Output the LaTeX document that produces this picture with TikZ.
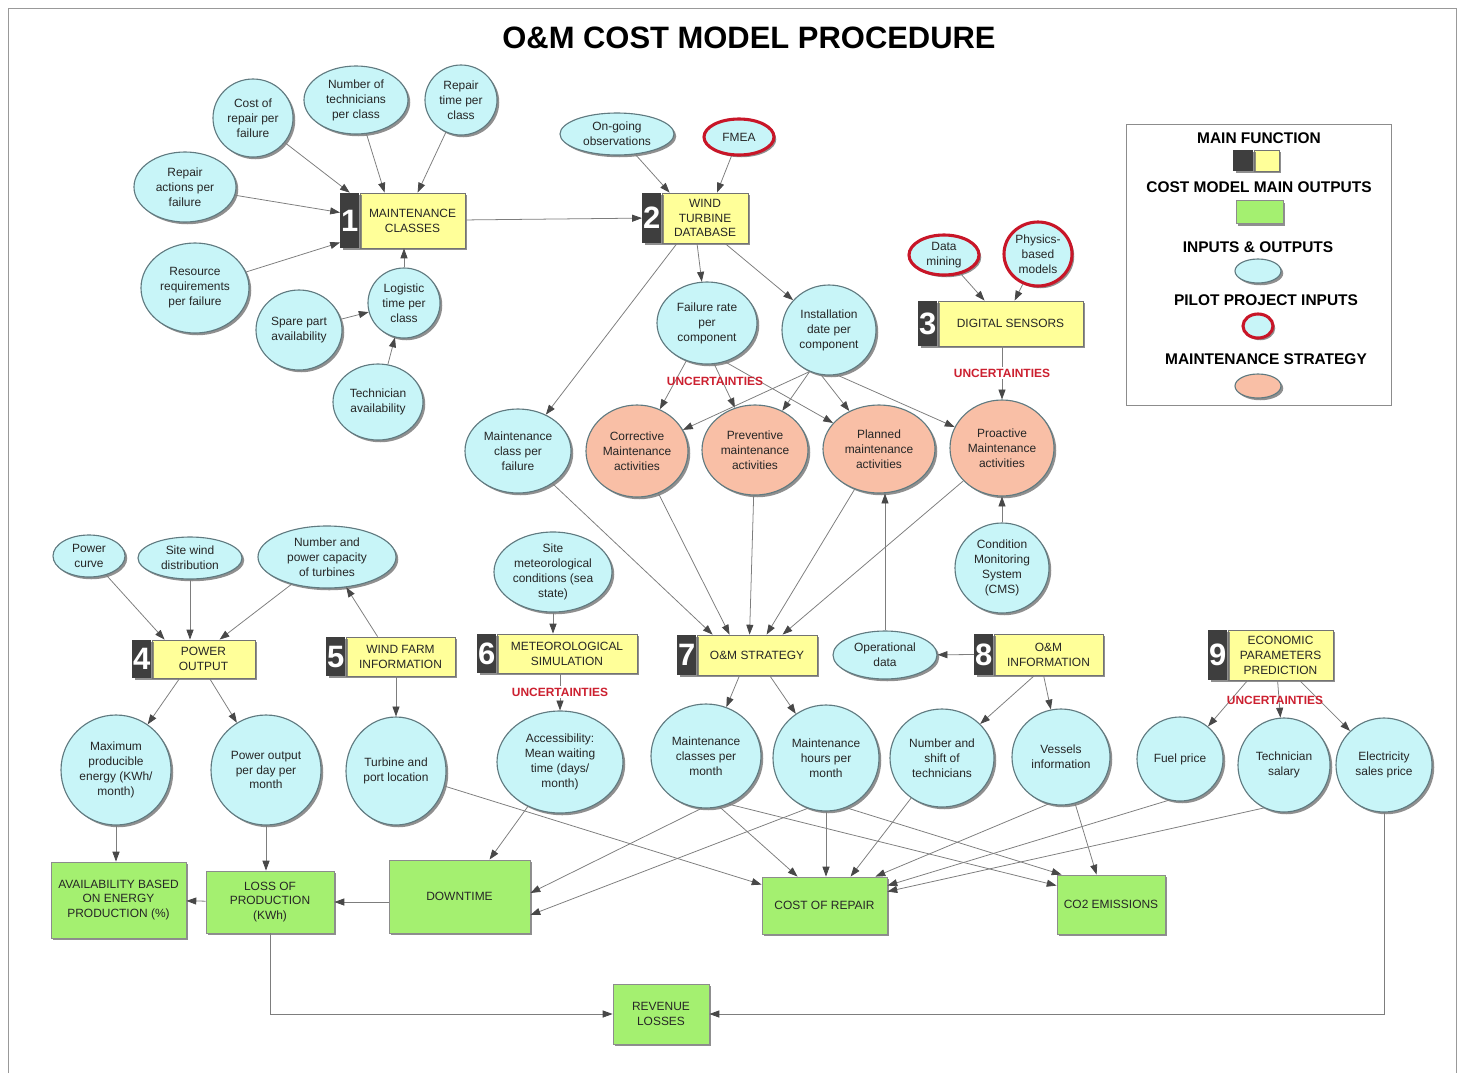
\documentclass[tikz,border=0pt]{standalone}
\usepackage{fontspec}
\setmainfont{Liberation Sans}
\usetikzlibrary{shapes.geometric,arrows.meta,shadows}

\definecolor{inpfill}{RGB}{200,245,248}
\definecolor{inpline}{RGB}{96,122,128}
\definecolor{strfill}{RGB}{249,191,166}
\definecolor{fnfill}{RGB}{255,255,153}
\definecolor{fnnum}{RGB}{62,62,62}
\definecolor{outfill}{RGB}{164,240,112}
\definecolor{pilot}{RGB}{200,22,40}
\definecolor{uncred}{RGB}{204,32,48}
\definecolor{conn}{RGB}{125,125,125}
\definecolor{tipc}{RGB}{72,72,72}

\def\px{0.025cm}

\tikzset{
  txt/.style={font=\fontsize{8.5}{10.6}\selectfont, align=center, text=black!85},
  shade/.style={drop shadow={shadow xshift=1.6pt, shadow yshift=-1.6pt, fill=black!55, opacity=.8}},
  wire/.style={draw=conn, line width=.55pt},
  inp/.style 2 args={ellipse, txt, shade, draw=inpline, line width=.8pt, fill=inpfill,
    inner sep=0pt, minimum width=#1*\px, minimum height=#2*\px},
  pil/.style 2 args={inp={#1}{#2}, draw=pilot, line width=2.2pt},
  strat/.style 2 args={inp={#1}{#2}, fill=strfill},
  fn/.style 2 args={rectangle, txt, shade, draw=black!55, line width=.6pt, fill=fnfill,
    inner sep=0pt, minimum width=#1*\px, minimum height=#2*\px},
  num/.style={rectangle, shade, fill=fnnum, text=white, inner sep=0pt, anchor=east,
    minimum width=19*\px, minimum height=#1*\px, font=\fontsize{22}{22}\bfseries},
  out/.style 2 args={fn={#1}{#2}, fill=outfill, draw=black!45},
  unc/.style={font=\fontsize{8.5}{10}\bfseries, text=uncred, inner sep=1pt},
  key/.style={font=\fontsize{11}{13}\bfseries},
}

\begin{document}
\begin{tikzpicture}[>={Triangle[length=7pt,width=5pt,color=tipc]}, every edge/.style={wire}]
    \def\x{0.025}
    \def\y{-0.025}
    \useasboundingbox (0,0) rectangle (1463*\x,1073*\y);
    \draw[black!40, line width=.6pt] (8*\x,1073*\y) -- (8*\x,8*\y) -- (1456*\x,8*\y) -- (1456*\x,1073*\y);
    \node[font=\fontsize{22}{26}\bfseries] (title) at (749*\x,38*\y) {O\&M COST MODEL PROCEDURE};

    \node[fn={105}{55}] (F1) at (412.5*\x,220.5*\y) {MAINTENANCE\\CLASSES};
    \node[num=55] (N1) at (F1.west) {1};
    \node[fn={86}{50}] (F2) at (705*\x,218*\y) {WIND\\TURBINE\\DATABASE};
    \node[num=50] (N2) at (F2.west) {2};
    \node[fn={145}{45}] (F3) at (1010.5*\x,323.5*\y) {DIGITAL SENSORS};
    \node[num=45] (N3) at (F3.west) {3};
    \node[fn={103}{38}] (F4) at (203.5*\x,659*\y) {POWER\\OUTPUT};
    \node[num=38] (N4) at (F4.west) {4};
    \node[fn={109}{39}] (F5) at (400.5*\x,656.5*\y) {WIND FARM\\INFORMATION};
    \node[num=39] (N5) at (F5.west) {5};
    \node[fn={140}{39}] (F6) at (567*\x,653.5*\y) {METEOROLOGICAL\\SIMULATION};
    \node[num=39] (N6) at (F6.west) {6};
    \node[fn={120}{40}] (F7) at (757*\x,655*\y) {O\&M STRATEGY};
    \node[num=40] (N7) at (F7.west) {7};
    \node[fn={109}{41}] (F8) at (1048.5*\x,654.5*\y) {O\&M\\INFORMATION};
    \node[num=41] (N8) at (F8.west) {8};
    \node[fn={105}{50}] (F9) at (1280.5*\x,655*\y) {ECONOMIC\\PARAMETERS\\PREDICTION};
    \node[num=50] (N9) at (F9.west) {9};

    \node[inp={80}{78}] (I1_1) at (253*\x,118*\y) {Cost of\\repair per\\failure};
    \node[inp={104}{68}] (I1_2) at (356*\x,100*\y) {Number of\\technicians\\per class};
    \node[inp={72}{70}] (I1_3) at (461*\x,100*\y) {Repair\\time per\\class};
    \node[inp={102}{70}] (I1_4) at (185*\x,187*\y) {Repair\\actions per\\failure};
    \node[inp={108}{90}] (I1_5) at (195*\x,288*\y) {Resource\\requirements\\per failure};
    \node[inp={72}{70}] (I1_6) at (404*\x,303*\y) {Logistic\\time per\\class};
    \node[inp={86}{80}] (I1_7) at (299*\x,330*\y) {Spare part\\availability};
    \node[inp={90}{76}] (I1_8) at (378*\x,402*\y) {Technician\\availability};

    \node[inp={114}{42}] (I2_1) at (617*\x,134*\y) {On-going\\observations};
    \node[pil={70}{36}] (I2_2) at (739*\x,137*\y) {FMEA};
    \node[inp={100}{82}] (O2_1) at (707*\x,323*\y) {Failure rate\\per\\component};
    \node[inp={94}{90}] (O2_2) at (829*\x,330*\y) {Installation\\date per\\component};
    \node[inp={106}{84}] (O2_3) at (518*\x,451*\y) {Maintenance\\class per\\failure};
    \node[pil={70}{40}] (I3_1) at (944*\x,255*\y) {Data\\mining};
    \node[pil={68}{64}] (I3_2) at (1038*\x,254*\y) {Physics-\\based\\models};

    \node[strat={102}{92}] (S1) at (637*\x,451*\y) {Corrective\\Maintenance\\activities};
    \node[strat={106}{90}] (S2) at (755*\x,450*\y) {Preventive\\maintenance\\activities};
    \node[strat={112}{88}] (S3) at (879*\x,449*\y) {Planned\\maintenance\\activities};
    \node[strat={104}{96}] (S4) at (1002*\x,448*\y) {Proactive\\Maintenance\\activities};
    \node[inp={94}{90}] (I3_3) at (1002*\x,568*\y) {Condition\\Monitoring\\System\\(CMS)};
    \node[inp={118}{80}] (I6_1) at (553*\x,572*\y) {Site\\meteorological\\conditions (sea\\state)};
    \node[inp={104}{48}] (O8_1) at (885*\x,655*\y) {Operational\\data};

    \node[inp={72}{42}] (I4_1) at (89*\x,556*\y) {Power\\curve};
    \node[inp={104}{42}] (I4_2) at (190*\x,558*\y) {Site wind\\distribution};
    \node[inp={138}{62}] (I4_3) at (327*\x,557*\y) {Number and\\power capacity\\of turbines};

    \node[inp={110}{110}] (O4_1) at (116*\x,770*\y) {Maximum\\producible\\energy (KWh/\\month)};
    \node[inp={110}{110}] (O4_2) at (266*\x,770*\y) {Power output\\per day per\\month};
    \node[inp={100}{108}] (O5_1) at (396*\x,771*\y) {Turbine and\\port location};
    \node[inp={126}{102}] (O6_1) at (560*\x,762*\y) {Accessibility:\\Mean waiting\\time (days/\\month)};
    \node[inp={110}{104}] (O7_1) at (706*\x,756*\y) {Maintenance\\classes per\\month};
    \node[inp={106}{106}] (O7_2) at (826*\x,758*\y) {Maintenance\\hours per\\month};
    \node[inp={104}{98}] (O8_2) at (942*\x,758*\y) {Number and\\shift of\\technicians};
    \node[inp={98}{96}] (O8_3) at (1061*\x,757*\y) {Vessels\\information};
    \node[inp={86}{84}] (O9_1) at (1180*\x,759*\y) {Fuel price};
    \node[inp={92}{94}] (O9_2) at (1284*\x,765*\y) {Technician\\salary};
    \node[inp={96}{94}] (O9_3) at (1384*\x,765*\y) {Electricity\\sales price};

    \node[out={135}{76}] (R1) at (118.5*\x,900*\y) {AVAILABILITY BASED\\ON ENERGY\\PRODUCTION (\%)};
    \node[out={128}{62}] (R2) at (270*\x,902*\y) {LOSS OF\\PRODUCTION\\(KWh)};
    \node[out={141}{73}] (R3) at (459.5*\x,896.5*\y) {DOWNTIME};
    \node[out={125}{57}] (R4) at (824.5*\x,905.5*\y) {COST OF REPAIR};
    \node[out={108}{59}] (R5) at (1111*\x,904.5*\y) {CO2 EMISSIONS};
    \node[out={96}{60}] (R6) at (661*\x,1014*\y) {REVENUE\\LOSSES};

    \draw[black!45, line width=.6pt] (1126*\x,124*\y) rectangle (1391*\x,405*\y);
    \node[key] (T1) at (1259*\x,138*\y) {MAIN FUNCTION};
    \node[fn={25}{21}] (K1) at (1266.5*\x,160.5*\y) {};
    \node[num=21, minimum width=20*\px] (K0) at (K1.west) {};
    \node[key] (T2) at (1259*\x,187*\y) {COST MODEL MAIN OUTPUTS};
    \node[out={47}{23}] (K2) at (1259.5*\x,212*\y) {};
    \node[key] (T3) at (1258*\x,247*\y) {INPUTS \& OUTPUTS};
    \node[inp={46}{24}] (K3) at (1258*\x,271*\y) {};
    \node[key] (T4) at (1266*\x,300*\y) {PILOT PROJECT INPUTS};
    \node[pil={30}{24}] (K4) at (1258*\x,326*\y) {};
    \node[key] (T5) at (1266*\x,359*\y) {MAINTENANCE STRATEGY};
    \node[strat={46}{24}] (K5) at (1258*\x,386*\y) {};

    \path (I1_1) edge [->] (N1.north);
    \path (I1_2) edge [->] ([xshift=25*\px]F1.north west);
    \path (I1_3) edge [->] ([xshift=58*\px]F1.north west);
    \path (I1_4) edge [->] ([yshift=8*\px]N1.west);
    \path (I1_5) edge [->] ([yshift=-22*\px]N1.west);
    \path (I1_7) edge [->] (I1_6);
    \path (I1_8) edge [->] (I1_6);
    \path (I1_6) edge [->] (I1_6.north |- F1.south);
    \path (F1) edge [->] (N2);

    \path (I2_1) edge [->] ([xshift=8*\px]F2.north west);
    \path (I2_2) edge [->] ([xshift=12*\px]F2.north);
    \path ([xshift=-8*\px]F2.south) edge [->] (O2_1);
    \path ([xshift=20*\px]F2.south) edge [->] (O2_2);
    \path ([xshift=-28*\px]F2.south) edge [->] (O2_3);

    \path (I3_1) edge [->] ([xshift=47*\px]F3.north west);
    \path (I3_2) edge [->] ([xshift=77*\px]F3.north west);
    \path (S4.north |- F3.south) edge [->] node [unc, fill=white] {UNCERTAINTIES} (S4);

    \path (O2_1) edge [->] (S1);
    \path (O2_1.-80) edge [->] (S2);
    \path (O2_1.-65) edge [->] (S3);
    \path (O2_2.-115) edge [->] (S1);
    \path (O2_2.-115) edge [->] (S2);
    \path (O2_2.-100) edge [->] (S3);
    \path (O2_2.-80) edge [->] (S4);
    \path (I3_3) edge [->] (S4);
    \path (O8_1) edge [->] (O8_1.north |- S3.south);
    \path (N8) edge [->] (O8_1);
    \node[unc] (U1) at (715*\x,381*\y) {UNCERTAINTIES};

    \path (O2_3) edge [->] ([xshift=16*\px]F7.north west);
    \path (S1) edge [->] ([xshift=33*\px]F7.north west);
    \path (S2) edge [->] ([xshift=53*\px]F7.north west);
    \path (S3) edge [->] ([xshift=70*\px]F7.north west);
    \path (S4) edge [->] ([xshift=86*\px]F7.north west);

    \path (I4_1) edge [->] ([xshift=13*\px]F4.north west);
    \path (I4_2) edge [->] (I4_2.south |- F4.north);
    \path (I4_3) edge [->] ([xshift=68*\px]F4.north west);
    \path ([xshift=32*\px]F5.north west) edge [->] (I4_3);
    \path (O5_1.north |- F5.south) edge [->] (O5_1);
    \path (I6_1) edge [->] (I6_1.south |- F6.north);
    \path (O6_1.north |- F6.south) edge [->] node [unc, fill=white] {UNCERTAINTIES} (O6_1);
    \path ([xshift=28*\px]F4.south west) edge [->] (O4_1);
    \path ([xshift=58*\px]F4.south west) edge [->] (O4_2);

    \path ([xshift=43*\px]F7.south west) edge [->] (O7_1);
    \path ([xshift=73*\px]F7.south west) edge [->] (O7_2);
    \path ([xshift=41*\px]F8.south west) edge [->] (O8_2);
    \path ([xshift=50*\px]F8.south west) edge [->] (O8_3);
    \path ([xshift=20*\px]F9.south west) edge [->] (O9_1);
    \path ([xshift=50*\px]F9.south west) edge [->] (O9_2);
    \path ([xshift=72*\px]F9.south west) edge [->] (O9_3);
    \node[unc] (U2) at (1275*\x,700*\y) {UNCERTAINTIES};

    \path (O4_1) edge [->] (O4_1.south |- R1.north);
    \path (O4_2) edge [->] (O4_2.south |- R2.north);
    \path (R3.west |- R2.east) edge [->] (R2);
    \path (R2) edge [->] (R1);
    \path (O6_1) edge [->] ([xshift=30*\px]R3.north);
    \path (O7_1.-95) edge [->] ([yshift=3.5*\px]R3.east);
    \path (O7_2.-110) edge [->] ([yshift=-18.5*\px]R3.east);
    \path (O5_1) edge [->] ([yshift=-8*\px]R4.north west);
    \path (O7_1.-75) edge [->] ([xshift=36*\px]R4.north west);
    \path (O7_2) edge [->] (O7_2.south |- R4.north);
    \path (O8_2) edge [->] ([xshift=89*\px]R4.north west);
    \path (O8_3.-105) edge [->] ([xshift=-12*\px]R4.north east);
    \path (O9_1.-105) edge [->] ([yshift=-9*\px]R4.north east);
    \path (O9_2.-115) edge [->] ([yshift=-15*\px]R4.north east);
    \path (O8_3) edge [->] ([xshift=40*\px]R5.north west);
    \path (O7_2.-68) edge [->] ([xshift=5*\px]R5.north west);
    \path (O7_1.-65) edge [->] ([yshift=-11*\px]R5.north west);
    \draw[wire, ->] (R2) |- (R6);
    \draw[wire, ->] (O9_3) |- (R6);
\end{tikzpicture}
\end{document}
